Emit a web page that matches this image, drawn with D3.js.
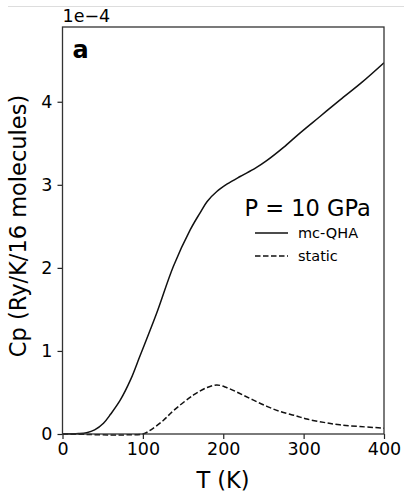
<!DOCTYPE html>
<html>
<head>
<meta charset="utf-8">
<script src="https://cdn.jsdelivr.net/npm/d3@7"></script>
<style>
  body { margin: 0; background: #fff; }
  text { font-family: "DejaVu Sans", sans-serif; fill: #000; }
</style>
</head>
<body>
<div id="chart"></div>
<script>
// data (Cp in units of 1e-4)
const tQha = [0, 20, 30, 40, 51, 60, 72, 85, 96, 117, 138, 159, 171, 180, 192, 205, 221, 240, 254, 275, 295, 320, 345, 372, 400];
const cpQha = [0, 0.005, 0.016, 0.05, 0.13, 0.24, 0.41, 0.66, 0.93, 1.45, 2.02, 2.46, 2.66, 2.8, 2.92, 3.01, 3.1, 3.2, 3.29, 3.45, 3.62, 3.82, 4.02, 4.23, 4.47];
const tStatic = [0, 30, 60, 80, 100, 110, 125, 138, 163, 180, 192, 204, 220, 237, 255, 271, 290, 304, 325, 345, 370, 400];
const cpStatic = [0, -0.005, -0.012, -0.01, 0, 0.05, 0.16, 0.28, 0.47, 0.56, 0.59, 0.56, 0.49, 0.41, 0.33, 0.27, 0.22, 0.18, 0.14, 0.11, 0.09, 0.07];
const xTicks = [0, 100, 200, 300, 400];
const yTicks = [0, 1, 2, 3, 4];

const W = 404, H = 492;
const margin = {top: 27, right: 20, bottom: 58, left: 62.5};
const width = 384 - margin.left, height = 434 - margin.top;

const svg = d3.select("#chart").append("svg")
  .attr("width", W).attr("height", H);

// thin grey rule at the very top
svg.append("line")
  .attr("x1", 8).attr("x2", W).attr("y1", 6.5).attr("y2", 6.5)
  .attr("stroke", "#ddd").attr("stroke-width", 1);

const g = svg.append("g").attr("transform", `translate(${margin.left},${margin.top})`);

const x = d3.scaleLinear().domain([0, 400]).range([0, width]);
const y = d3.scaleLinear().domain([0, 4.9]).range([height, 0]);

// axes
const xAxis = g.append("g").attr("transform", `translate(0,${height})`)
  .call(d3.axisBottom(x).tickValues(xTicks).tickSize(5).tickPadding(4).tickFormat(d3.format("d")));
const yAxis = g.append("g")
  .call(d3.axisLeft(y).tickValues(yTicks).tickSize(5).tickPadding(5).tickFormat(d3.format("d")));
[xAxis, yAxis].forEach(a => {
  a.select(".domain").remove();
  a.selectAll("line").attr("stroke", "#222").attr("stroke-width", 1.2);
  a.selectAll("text").style("font-size", "17.5px").attr("fill", "#222");
});

g.append("clipPath").attr("id", "clip")
  .append("rect").attr("width", width).attr("height", height + 2);

const line = d3.line().curve(d3.curveCatmullRom.alpha(0.5))
  .x(d => x(d[0])).y(d => y(d[1]));

g.append("path")
  .datum(d3.zip(tQha, cpQha))
  .attr("clip-path", "url(#clip)")
  .attr("fill", "none").attr("stroke", "#111").attr("stroke-width", 1.5)
  .attr("d", line);

g.append("path")
  .datum(d3.zip(tStatic, cpStatic))
  .attr("clip-path", "url(#clip)")
  .attr("fill", "none").attr("stroke", "#111").attr("stroke-width", 1.5)
  .attr("stroke-dasharray", "5.5,2.5")
  .attr("d", line);

// frame
g.append("rect").attr("width", width).attr("height", height)
  .attr("fill", "none").attr("stroke", "#333").attr("stroke-width", 1.3);

// offset label
g.append("text").attr("x", 0).attr("y", -5)
  .style("font-size", "17.5px").attr("fill", "#222").text("1e\u22124");

// panel letter
g.append("text").attr("x", 10).attr("y", 31)
  .style("font-size", "24px").style("font-weight", "bold").text("a");

// legend
g.append("text").attr("x", 244.5 - margin.left).attr("y", 216 - margin.top)
  .style("font-size", "22.5px").attr("fill", "#222").text("P = 10 GPa");
const legend = [{label: "mc-QHA", dash: null, yy: 233}, {label: "static", dash: "5.5,2.5", yy: 256}];
legend.forEach(d => {
  g.append("line")
    .attr("x1", 255 - margin.left).attr("x2", 288 - margin.left)
    .attr("y1", d.yy - margin.top).attr("y2", d.yy - margin.top)
    .attr("stroke", "#111").attr("stroke-width", 1.5)
    .attr("stroke-dasharray", d.dash);
  g.append("text")
    .attr("x", 298 - margin.left).attr("y", d.yy - margin.top)
    .attr("dy", "0.35em")
    .style("font-size", "14.5px").attr("fill", "#222").text(d.label);
});

// axis labels
svg.append("text")
  .attr("x", 223).attr("y", 488)
  .attr("text-anchor", "middle")
  .style("font-size", "22.5px").attr("fill", "#222").text("T (K)");
svg.append("text")
  .attr("transform", `translate(26,226) rotate(-90)`)
  .attr("text-anchor", "middle")
  .style("font-size", "22.5px").attr("fill", "#222").text("Cp (Ry/K/16 molecules)");
</script>
</body>
</html>
